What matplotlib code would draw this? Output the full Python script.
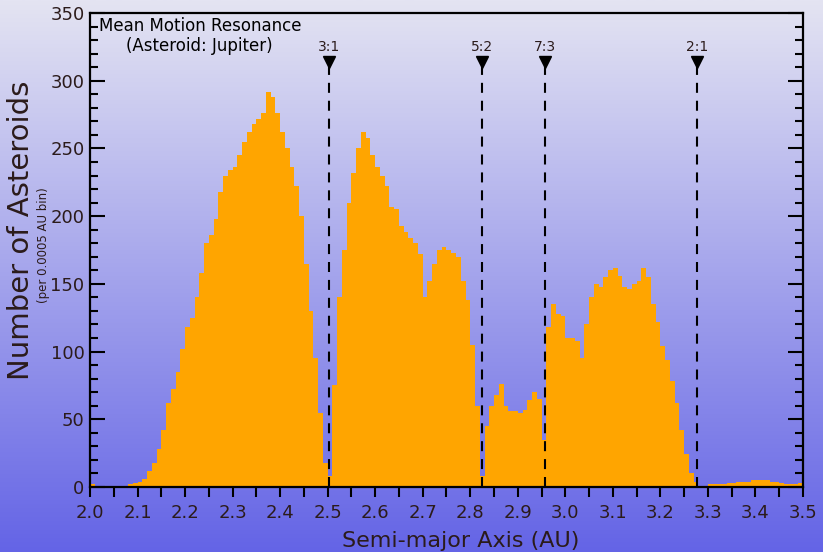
import numpy as np
import matplotlib
matplotlib.use("Agg")
import matplotlib.pyplot as plt

# histogram, coarsened to 0.01 AU bins (bin start 2.00 ... 3.49)
bin_start = 2.0
bin_width = 0.01
counts = [
    2, 1, 1, 1, 1, 1, 1, 1, 2, 3,                          # 2.00-2.09
    4, 6, 12, 18, 28, 42, 62, 72, 85, 102,                 # 2.10-2.19
    118, 125, 140, 158, 180, 186, 198, 218, 230, 234,      # 2.20-2.29
    236, 245, 255, 262, 268, 272, 276, 292, 288, 276,      # 2.30-2.39
    262, 250, 236, 222, 200, 165, 130, 95, 55, 18,         # 2.40-2.49
    8, 75, 140, 175, 210, 232, 250, 262, 258, 245,         # 2.50-2.59
    236, 230, 222, 207, 205, 193, 188, 184, 180, 172,      # 2.60-2.69
    140, 152, 165, 175, 177, 175, 173, 170, 152, 138,      # 2.70-2.79
    105, 60, 8, 45, 60, 68, 76, 60, 56, 56,                # 2.80-2.89
    55, 57, 64, 70, 65, 35, 118, 135, 128, 126,            # 2.90-2.99
    110, 110, 108, 95, 120, 140, 150, 148, 155, 160,       # 3.00-3.09
    162, 156, 148, 146, 150, 152, 162, 155, 135, 122,      # 3.10-3.19
    104, 94, 78, 62, 42, 24, 10, 4, 1, 1,                  # 3.20-3.29
    2, 2, 2, 2, 3, 3, 4, 4, 4, 5,                          # 3.30-3.39
    5, 5, 5, 4, 4, 3, 2, 2, 2, 3,                          # 3.40-3.49
]

# Kirkwood gaps (mean motion resonances with Jupiter)
res_labels = ["3:1", "5:2", "7:3", "2:1"]
res_axis = [2.502, 2.825, 2.958, 3.278]

text_color = "#2b1b1b"

fig = plt.figure(figsize=(8.23, 5.52), dpi=100)

# gradient background over the whole figure
bg = fig.add_axes([0, 0, 1, 1])
top = np.array([228, 228, 242]) / 255
bottom = np.array([100, 100, 230]) / 255
t = np.linspace(0, 1, 256)[:, None]
grad = top + (bottom - top) * t
bg.imshow(grad[:, None, :], aspect="auto", extent=[0, 1, 0, 1])
bg.set_axis_off()

ax = fig.add_axes([90 / 823, 65 / 552, 713 / 823, 474 / 552])
ax.patch.set_alpha(0)

edges = bin_start + bin_width * np.arange(len(counts))
ax.bar(edges, counts, width=bin_width, align="edge", color="orange", linewidth=0)

for lab, a in zip(res_labels, res_axis):
    ax.plot([a, a], [0, 311], color="black", linewidth=1.5, dashes=(4.8, 3.8))
    ax.plot(a, 314, marker="v", color="black", markersize=8)
    ax.text(a, 325, lab, ha="center", va="center", fontsize=10, color=text_color)

ax.text(2.231, 333, "Mean Motion Resonance\n(Asteroid: Jupiter)", ha="center",
        va="center", fontsize=12, color="black", linespacing=1.15)

ax.set_xlim(2.0, 3.5)
ax.set_ylim(0, 350)
ax.set_xticks(np.arange(2.0, 3.51, 0.1))
ax.set_xticks(np.arange(2.05, 3.5, 0.1), minor=True)
ax.set_yticks(np.arange(0, 351, 50))
ax.set_yticks(np.arange(0, 351, 10), minor=True)
ax.set_xticklabels([f"{v:.1f}" for v in np.arange(2.0, 3.51, 0.1)])

for s in ax.spines.values():
    s.set_linewidth(1.6)
    s.set_color("black")

ax.tick_params(axis="x", which="both", direction="out", length=7, width=1.5,
               labelsize=13, labelcolor=text_color, pad=5)
ax.tick_params(axis="y", which="major", direction="in", length=11, width=1.5,
               left=True, right=True, labelsize=13, labelcolor=text_color, pad=4)
ax.tick_params(axis="y", which="minor", direction="in", length=6, width=1.5,
               left=True, right=True)

fig.text(0.5592, 1 - 541 / 552, "Semi-major Axis (AU)", ha="center", va="center",
         fontsize=16, color=text_color)
fig.text(21 / 823, 1 - 230 / 552, "Number of Asteroids", rotation=90, ha="center",
         va="center", fontsize=21, color=text_color)
fig.text(44 / 823, 1 - 245 / 552, "(per 0.0005 AU bin)", rotation=90, ha="center",
         va="center", fontsize=8.5, color=text_color)

fig.savefig("out.png", dpi=100)
